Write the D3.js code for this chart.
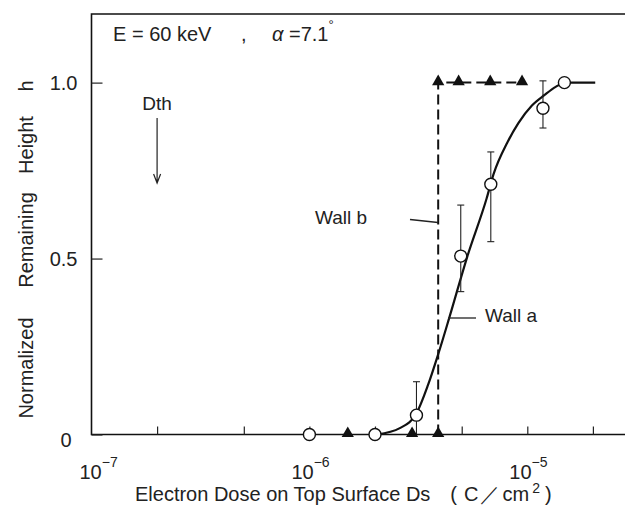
<!DOCTYPE html>
<html>
<head>
<meta charset="utf-8">
<script src="https://cdn.jsdelivr.net/npm/d3@7"></script>
<style>
  body { margin: 0; background: #fff; }
  svg { display: block; font-family: "Liberation Sans", Arial, Helvetica, sans-serif; }
  .axis path { display: none; }
  .axis line { stroke: #222; stroke-width: 1.2; }
</style>
</head>
<body>
<script>
// data
var wallADose = [1e-6, 2e-6, 3.1e-6, 4.95e-6, 6.8e-6, 1.18e-5, 1.48e-5];
var wallAH = [0, 0, 0.055, 0.507, 0.711, 0.927, 1.0];
var wallAErrLow = [null, null, 0, 0.406, 0.548, 0.871, null];
var wallAErrHigh = [null, null, 0.15, 0.652, 0.803, 1.005, null];

var wallBDose = [1.5e-6, 2.96e-6, 3.9e-6, 3.9e-6, 4.84e-6, 6.76e-6, 9.46e-6];
var wallBH = [0, 0, 0, 1, 1, 1, 1];
var wallBLineDose = [3.9e-6, 3.9e-6, 9.46e-6];
var wallBLineH = [0, 1, 1];

var fitDose = [2.05e-6, 2.6e-6, 3.1e-6, 3.5e-6, 3.9e-6, 4.4e-6, 5.3e-6, 6.5e-6, 7e-6, 8.1e-6, 9.1e-6, 1.05e-5, 1.2e-5, 1.35e-5, 1.5e-5, 2.05e-5];
var fitH = [0, 0.018, 0.06, 0.14, 0.228, 0.335, 0.505, 0.67, 0.74, 0.83, 0.885, 0.935, 0.965, 0.988, 1.0, 1.0];

var xMajor = [1e-7, 1e-6, 1e-5];
var xMajorExp = ["\u22127", "\u22126", "\u22125"];
var xMinor = [2e-7, 5e-7, 1e-6, 2e-6, 5e-6, 1e-5, 2e-5];
var yTicks = [0, 0.5, 1.0];
var yTickLabels = ["0", "0.5", "1.0"];

// set the dimensions and margins of the graph
var margin = { top: 14, left: 91.5 },
    width = 560,
    height = 420.5;

var x = d3.scaleLog().domain([1e-7, 1e-5]).range([0, 435.8]);
var y = d3.scaleLinear().domain([0, 1.195]).range([height, 0]);

var svg = d3.select("body").append("svg")
    .attr("width", 625)
    .attr("height", 505);

var g = svg.append("g")
    .attr("transform", "translate(" + margin.left + "," + margin.top + ")");

// frame (right side runs off the picture)
g.append("path")
    .attr("d", "M" + width + ",0H0V" + height + "H" + width)
    .attr("fill", "none")
    .attr("stroke", "#111")
    .attr("stroke-width", 1.6);

// x ticks, drawn inward
g.append("g")
    .attr("class", "axis")
    .attr("transform", "translate(0," + height + ")")
    .call(d3.axisBottom(x).tickValues(xMinor).tickSize(-8).tickFormat(""));

// decade labels, hand placed as in the original
var xLabelShift = [-12, -18, -18];
var xl = g.append("g").attr("font-size", 20).attr("fill", "#222");
xMajor.forEach(function (v, i) {
    var t = xl.append("text")
        .attr("x", x(v) + xLabelShift[i])
        .attr("y", height + 44);
    t.append("tspan").text("10");
    t.append("tspan").attr("dy", -12).attr("font-size", 14).text(xMajorExp[i]);
});

// y ticks, drawn inward
var yAxis = g.append("g")
    .attr("class", "axis")
    .call(d3.axisLeft(y).tickValues(yTicks).tickSize(-11).tickPadding(14)
        .tickFormat(function (d, i) { return yTickLabels[i]; }));
yAxis.selectAll("text")
    .attr("font-size", 20)
    .attr("fill", "#222")
    .attr("font-family", "Liberation Sans, Arial, sans-serif")
    .attr("dx", function (d) { return d === 0 ? -6 : 0; })
    .attr("dy", function (d) { return d === 0 ? "0.6em" : "0.35em"; });

// fitted curve for wall a
var line = d3.line()
    .x(function (d) { return x(d[0]); })
    .y(function (d) { return y(d[1]); })
    .curve(d3.curveMonotoneX);

g.append("path")
    .attr("d", line(d3.zip(fitDose, fitH)))
    .attr("fill", "none")
    .attr("stroke", "#111")
    .attr("stroke-width", 2.2);

// wall b dashed step
g.append("path")
    .attr("d", d3.line().x(function (d) { return x(d[0]); }).y(function (d) { return y(d[1]); })(d3.zip(wallBLineDose, wallBLineH)))
    .attr("fill", "none")
    .attr("stroke", "#111")
    .attr("stroke-width", 2)
    .attr("stroke-dasharray", "10,5");

// error bars
var err = wallADose.map(function (d, i) { return [d, wallAErrLow[i], wallAErrHigh[i]]; })
    .filter(function (d) { return d[1] !== null; });
var eb = g.append("g").attr("stroke", "#222").attr("stroke-width", 1.1);
err.forEach(function (d) {
    eb.append("line").attr("x1", x(d[0])).attr("x2", x(d[0])).attr("y1", y(d[1])).attr("y2", y(d[2]));
    eb.append("line").attr("x1", x(d[0]) - 3.5).attr("x2", x(d[0]) + 3.5).attr("y1", y(d[2])).attr("y2", y(d[2]));
    if (d[1] > 0) {
        eb.append("line").attr("x1", x(d[0]) - 3.5).attr("x2", x(d[0]) + 3.5).attr("y1", y(d[1])).attr("y2", y(d[1]));
    }
});

// wall a circles
g.selectAll(".pa")
    .data(d3.zip(wallADose, wallAH))
    .enter().append("circle")
    .attr("cx", function (d) { return x(d[0]); })
    .attr("cy", function (d) { return y(d[1]); })
    .attr("r", 6)
    .attr("fill", "#fff")
    .attr("stroke", "#111")
    .attr("stroke-width", 1.4);

// wall b triangles
g.selectAll(".pb")
    .data(d3.zip(wallBDose, wallBH))
    .enter().append("path")
    .attr("d", d3.symbol().type(d3.symbolTriangle).size(65))
    .attr("transform", function (d) { return "translate(" + x(d[0]) + "," + (y(d[1]) - 1) + ")"; })
    .attr("fill", "#111");

// annotations
svg.append("text")
    .attr("x", 113).attr("y", 41)
    .attr("font-size", 20).attr("fill", "#222")
    .text("E = 60 keV");
svg.append("text")
    .attr("x", 241).attr("y", 41)
    .attr("font-size", 20).attr("fill", "#222")
    .text(",");
var al = svg.append("text")
    .attr("x", 272).attr("y", 41)
    .attr("font-size", 20).attr("fill", "#222");
al.append("tspan").attr("font-style", "italic").text("\u03b1");
al.append("tspan").text(" =7.1");
al.append("tspan").attr("dy", -12).attr("font-size", 13).text("\u00b0");

svg.append("text")
    .attr("x", margin.left + x(2e-7)).attr("y", 110)
    .attr("text-anchor", "middle")
    .attr("font-size", 19).attr("fill", "#222")
    .text("Dth");
var ax = margin.left + x(2e-7);
svg.append("path")
    .attr("d", "M" + ax + ",118V183M" + (ax - 3.5) + ",174L" + ax + ",183L" + (ax + 3.5) + ",174")
    .attr("fill", "none").attr("stroke", "#222").attr("stroke-width", 1.2);

svg.append("text")
    .attr("x", 315).attr("y", 224)
    .attr("font-size", 19).attr("fill", "#222")
    .text("Wall b");
svg.append("line")
    .attr("x1", 410).attr("y1", 219.5).attr("x2", 438).attr("y2", 222.5)
    .attr("stroke", "#222").attr("stroke-width", 1.3);

svg.append("text")
    .attr("x", 485).attr("y", 322)
    .attr("font-size", 19).attr("fill", "#222")
    .text("Wall a");
svg.append("line")
    .attr("x1", 448).attr("y1", 318).attr("x2", 476).attr("y2", 318)
    .attr("stroke", "#222").attr("stroke-width", 1.3);

// axis titles
var xt = svg.append("text")
    .attr("x", 135).attr("y", 501)
    .attr("font-size", 20).attr("fill", "#222");
xt.append("tspan").text("Electron Dose on Top Surface Ds");
xt.append("tspan").attr("dx", 20).text("(");
xt.append("tspan").attr("dx", 7).text("C");
xt.append("tspan").attr("dx", 2).text("\uff0f");
xt.append("tspan").attr("dx", 2).text("cm");
xt.append("tspan").attr("dx", 3).attr("dy", -8).attr("font-size", 14).text("2");
xt.append("tspan").attr("dx", 5).attr("dy", 8).text(")");

var yTitle = [["Normalized", 368], ["Remaining", 240], ["Height", 145], ["h", 86]];
yTitle.forEach(function (d) {
    svg.append("text")
        .attr("transform", "translate(33," + d[1] + ") rotate(-90)")
        .attr("text-anchor", "middle")
        .attr("font-size", 20).attr("fill", "#222")
        .text(d[0]);
});
</script>
</body>
</html>
